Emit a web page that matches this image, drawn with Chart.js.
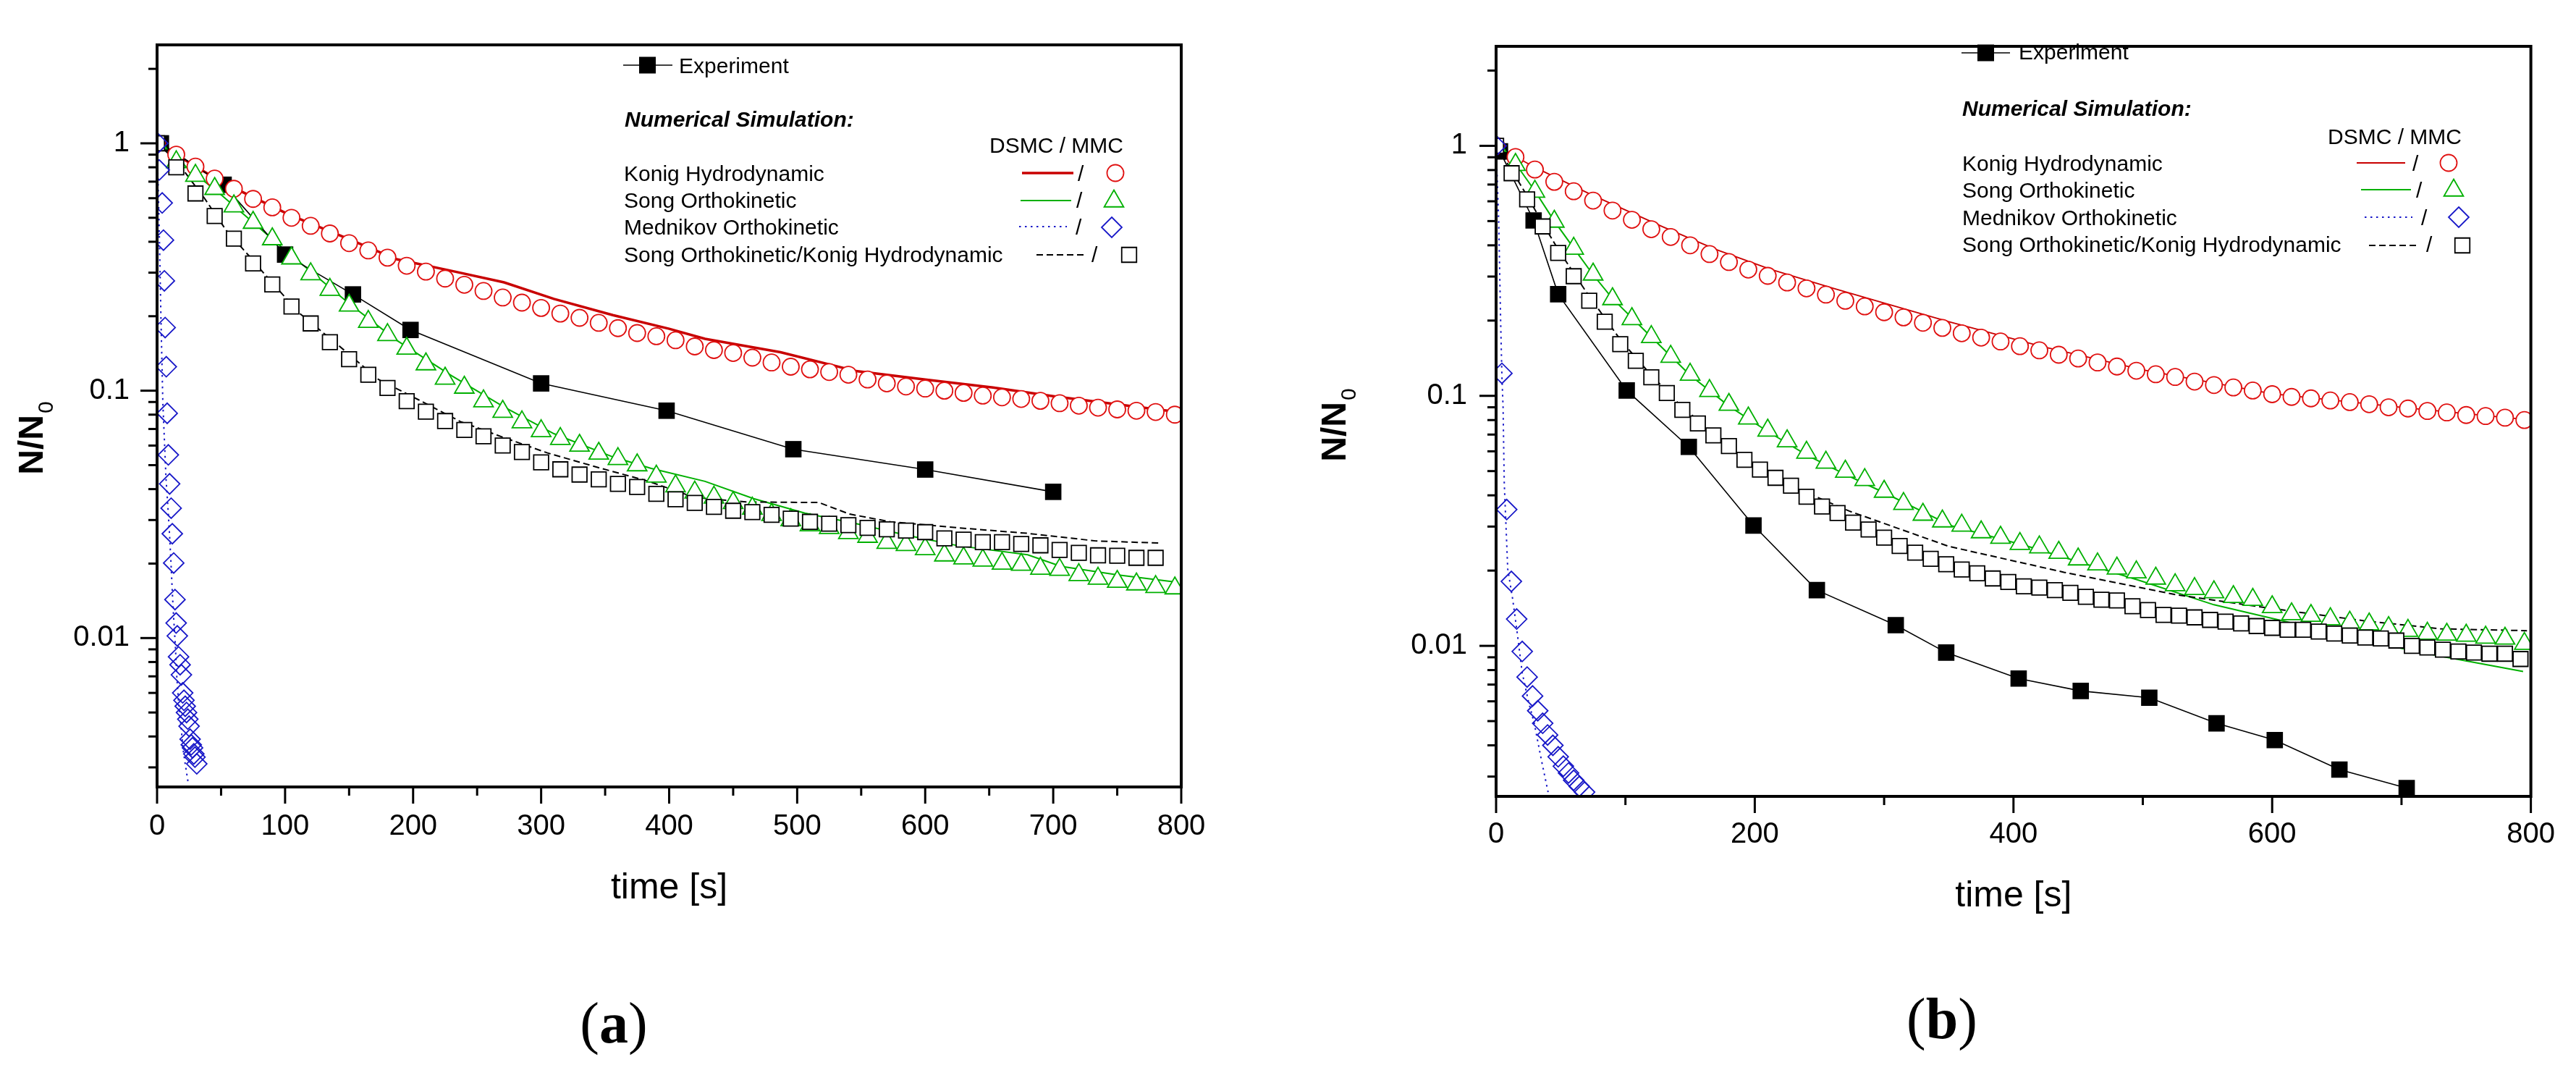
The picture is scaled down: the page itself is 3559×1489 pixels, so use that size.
<!DOCTYPE html>
<html>
<head>
<meta charset="utf-8">
<script src="https://cdn.jsdelivr.net/npm/chart.js@4.4.1/dist/chart.umd.min.js"></script>
<style>
  html, body { margin: 0; padding: 0; background: #fff; }
  #wrap { position: relative; width: 3559px; height: 1489px; overflow: hidden; background: #fff; }
  canvas { position: absolute; left: 0; top: 0; }
  .cap { position: absolute; font-family: "Liberation Serif", "Times New Roman", serif; font-size: 80px;
         line-height: 1; transform: translate(-50%, -50%); color: #000; white-space: nowrap; }
</style>
</head>
<body>
<div id="wrap">
  <canvas id="chartA" width="3559" height="1489"></canvas>
  <canvas id="chartB" width="3559" height="1489"></canvas>
  <div class="cap" style="left:848px; top:1413px">(<b>a</b>)</div>
  <div class="cap" style="left:2683px; top:1407px">(<b>b</b>)</div>
</div>
<script>
const FONT = '"Liberation Sans", Arial, Helvetica, sans-serif';

// time grids of the simulation markers [s]
const t15 = [0, 15, 30, 45, 60, 75, 90, 105, 120, 135, 150, 165, 180, 195, 210, 225, 240, 255, 270, 285,
  300, 315, 330, 345, 360, 375, 390, 405, 420, 435, 450, 465, 480, 495, 510, 525, 540, 555, 570, 585,
  600, 615, 630, 645, 660, 675, 690, 705, 720, 735, 750, 765, 780, 795];
const t12 = [0, 12, 24, 36, 48, 60, 72, 84, 96, 108, 120, 132, 144, 156, 168, 180, 192, 204, 216, 228,
  240, 252, 264, 276, 288, 300, 312, 324, 336, 348, 360, 372, 384, 396, 408, 420, 432, 444, 456, 468,
  480, 492, 504, 516, 528, 540, 552, 564, 576, 588, 600, 612, 624, 636, 648, 660, 672, 684, 696, 708,
  720, 732, 744, 756, 768, 780, 792];

// axis ticks
const yTickValues = [0.01, 0.1, 1];
const yTickLabels = ['0.01', '0.1', '1'];
const yMinorTicks = [0.003, 0.004, 0.005, 0.006, 0.007, 0.008, 0.009,
  0.02, 0.03, 0.04, 0.05, 0.06, 0.07, 0.08, 0.09,
  0.2, 0.3, 0.4, 0.5, 0.6, 0.7, 0.8, 0.9, 2];
const xTicksA = [0, 100, 200, 300, 400, 500, 600, 700, 800];
const xMinorA = [50, 150, 250, 350, 450, 550, 650, 750];
const xTicksB = [0, 200, 400, 600, 800];
const xMinorB = [100, 300, 500, 700];

const legendRows = ['Konig Hydrodynamic', 'Song Orthokinetic', 'Mednikov Orthokinetic',
  'Song Orthokinetic/Konig Hydrodynamic'];

// ---------- panel (a) ----------
const aExpT = [3, 52, 100, 153, 198, 300, 398, 497, 600, 700];
const aExpN = [1.0, 0.68, 0.355, 0.245, 0.176, 0.107, 0.083, 0.058, 0.048, 0.039];

const aKonigMmcN = [1.0, 0.90, 0.805, 0.72, 0.655, 0.596, 0.551, 0.50, 0.464, 0.432, 0.395, 0.369, 0.345,
  0.32, 0.303, 0.284, 0.268, 0.253, 0.238, 0.227, 0.216, 0.205, 0.197, 0.188, 0.179, 0.171, 0.166, 0.160,
  0.151, 0.146, 0.142, 0.136, 0.130, 0.125, 0.122, 0.119, 0.116, 0.111, 0.107, 0.104, 0.102, 0.100, 0.098,
  0.0955, 0.094, 0.0926, 0.091, 0.089, 0.087, 0.0854, 0.084, 0.083, 0.082, 0.080];
const aSongMmcN = [1.0, 0.84, 0.74, 0.655, 0.557, 0.478, 0.41, 0.343, 0.296, 0.256, 0.221, 0.19, 0.168,
  0.148, 0.128, 0.112, 0.103, 0.0907, 0.0823, 0.0746, 0.0687, 0.0639, 0.060, 0.0557, 0.053, 0.050, 0.045,
  0.0411, 0.0388, 0.037, 0.0352, 0.0334, 0.0315, 0.030, 0.0286, 0.0279, 0.0266, 0.0257, 0.0243, 0.0238,
  0.0229, 0.0216, 0.021, 0.0206, 0.020, 0.0198, 0.0191, 0.0189, 0.018, 0.0174, 0.0169, 0.0165, 0.0161, 0.0159];
const aSongKonigMmcN = [1.0, 0.80, 0.627, 0.508, 0.412, 0.327, 0.269, 0.219, 0.187, 0.157, 0.134, 0.116,
  0.1025, 0.0907, 0.0823, 0.0754, 0.0694, 0.0654, 0.060, 0.0565, 0.0513, 0.0481, 0.0458, 0.0438, 0.042,
  0.0408, 0.0383, 0.0364, 0.0352, 0.0339, 0.0327, 0.0323, 0.0315, 0.0304, 0.0295, 0.029, 0.0286, 0.0279,
  0.0275, 0.0272, 0.0268, 0.0253, 0.025, 0.0244, 0.0244, 0.024, 0.0237, 0.0227, 0.0221, 0.0216, 0.0215,
  0.0211, 0.0211];
const aMedMmcT = [0.5, 1.7, 4, 5, 5.7, 6.3, 7.2, 7.9, 8.8, 9.8, 11, 11.9, 13, 14, 14.9, 15.8, 16.8, 18, 19,
  20, 21, 22, 23, 24, 25, 25.8, 26.7, 27.7, 28.7, 29.6, 31];
const aMedMmcN = [1.0, 0.78, 0.574, 0.406, 0.278, 0.18, 0.125, 0.081, 0.055, 0.042, 0.0335, 0.0264, 0.0201,
  0.0143, 0.0115, 0.0102, 0.0084, 0.0078, 0.0071, 0.006, 0.0056, 0.0053, 0.005, 0.0047, 0.0044, 0.0039,
  0.0037, 0.0036, 0.0034, 0.0033, 0.0031];

const aKonigDsmcT = [0, 50, 103, 150, 187, 230, 271, 310, 356, 400, 428, 487, 546, 600, 653, 700, 750, 797];
const aKonigDsmcN = [1.0, 0.70, 0.515, 0.41, 0.34, 0.305, 0.274, 0.235, 0.202, 0.178, 0.162, 0.143, 0.12,
  0.111, 0.103, 0.095, 0.088, 0.082];
const aSongDsmcT = [0, 50, 100, 150, 187, 230, 271, 310, 356, 386, 428, 466, 506, 546, 586, 626, 680, 706, 750, 797];
const aSongDsmcN = [1.0, 0.62, 0.37, 0.225, 0.16, 0.115, 0.086, 0.067, 0.054, 0.0485, 0.043, 0.0366, 0.032,
  0.029, 0.026, 0.0236, 0.0217, 0.0195, 0.018, 0.0168];
const aMedDsmcT = [0, 1.5, 3, 4.5, 5.8, 7, 8.3, 9.6, 10.7, 12, 13, 14.3, 15.4, 16.8, 18.7, 20.5, 22.4, 24.3];
const aMedDsmcN = [1.0, 0.5, 0.2, 0.09, 0.062, 0.044, 0.035, 0.027, 0.021, 0.015, 0.012, 0.0093, 0.007,
  0.0055, 0.0044, 0.0035, 0.003, 0.0026];
const aSongKonigDsmcT = [0, 15, 37, 54, 72, 83, 111, 142, 173, 204, 237, 271, 305, 344, 384, 420, 460, 517,
  541, 573, 626, 680, 733, 783];
const aSongKonigDsmcN = [1.0, 0.85, 0.60, 0.445, 0.35, 0.30, 0.206, 0.152, 0.111, 0.092, 0.075, 0.0646,
  0.056, 0.049, 0.043, 0.037, 0.0355, 0.0353, 0.0317, 0.0295, 0.0279, 0.0265, 0.0247, 0.0242];

// ---------- panel (b) ----------
const bExpT = [3, 29, 48, 101, 149, 199, 248, 309, 348, 404, 452, 505, 557, 602, 652, 704];
const bExpN = [0.95, 0.503, 0.255, 0.105, 0.0625, 0.0303, 0.0167, 0.0121, 0.0094, 0.0074, 0.0066, 0.0062,
  0.0049, 0.0042, 0.0032, 0.0027];

const bKonigMmcN = [1.0, 0.902, 0.804, 0.718, 0.658, 0.604, 0.551, 0.506, 0.464, 0.432, 0.40, 0.369, 0.343,
  0.32, 0.302, 0.284, 0.269, 0.254, 0.240, 0.228, 0.216, 0.206, 0.196, 0.187, 0.178, 0.171, 0.165, 0.158,
  0.152, 0.146, 0.141, 0.136, 0.131, 0.126, 0.122, 0.119, 0.114, 0.1105, 0.108, 0.105, 0.1015, 0.099,
  0.0977, 0.0958, 0.0944, 0.0926, 0.090, 0.089, 0.087, 0.0858, 0.0838, 0.083, 0.0818, 0.080];
const bSongMmcN = [1.0, 0.84, 0.656, 0.498, 0.388, 0.306, 0.244, 0.203, 0.172, 0.1435, 0.1216, 0.1047,
  0.0922, 0.0813, 0.0727, 0.0659, 0.0593, 0.0541, 0.0498, 0.0461, 0.0414, 0.037, 0.0335, 0.0315, 0.0303,
  0.0285, 0.0271, 0.0256, 0.0248, 0.0236, 0.0222, 0.0212, 0.0204, 0.0197, 0.0186, 0.0175, 0.0169, 0.0164,
  0.0157, 0.0153, 0.0143, 0.0134, 0.0132, 0.0128, 0.0124, 0.0122, 0.0118, 0.0115, 0.0112, 0.0111, 0.011,
  0.0108, 0.0107, 0.0102];
const bSongKonigMmcN = [1.0, 0.777, 0.611, 0.476, 0.373, 0.301, 0.24, 0.198, 0.161, 0.138, 0.1186, 0.1026,
  0.0879, 0.0776, 0.0695, 0.063, 0.0555, 0.0507, 0.047, 0.0437, 0.0395, 0.0361, 0.034, 0.0311, 0.0292,
  0.0271, 0.0251, 0.0236, 0.0223, 0.0212, 0.0202, 0.0195, 0.0186, 0.0180, 0.0173, 0.0171, 0.0167, 0.0163,
  0.0157, 0.0153, 0.0152, 0.0144, 0.0139, 0.0133, 0.0132, 0.0130, 0.0127, 0.0125, 0.0123, 0.0120, 0.0118,
  0.0116, 0.0116, 0.0114, 0.0112, 0.011, 0.0108, 0.0107, 0.0105, 0.0100, 0.00985, 0.00965, 0.0095, 0.0094,
  0.0093, 0.0093, 0.00886];
const bMedMmcT = [0, 4.5, 8.2, 11.8, 15.9, 20.2, 24, 28.2, 32.2, 36, 39.8, 43.9, 48, 52, 56, 60, 64.3, 68.4];
const bMedMmcN = [1.0, 0.123, 0.0351, 0.0181, 0.0128, 0.0095, 0.0075, 0.0063, 0.0055, 0.0049, 0.0044,
  0.0040, 0.0036, 0.0033, 0.0031, 0.0029, 0.00274, 0.0026];

const bKonigDsmcT = [0, 30, 73, 129, 170, 212, 260, 300, 350, 421, 500, 600, 700, 800];
const bKonigDsmcN = [1.0, 0.82, 0.64, 0.474, 0.385, 0.321, 0.27, 0.235, 0.198, 0.158, 0.127, 0.102, 0.09, 0.080];
const bSongDsmcT = [0, 15, 30, 45, 60, 75, 90, 120, 150, 180, 210, 240, 270, 300, 352, 410, 497, 555, 608,
  686, 730, 794];
const bSongDsmcN = [1.0, 0.85, 0.66, 0.50, 0.39, 0.305, 0.245, 0.172, 0.121, 0.091, 0.072, 0.058, 0.0485,
  0.041, 0.0302, 0.0251, 0.0183, 0.0146, 0.0126, 0.0101, 0.0091, 0.0079];
const bMedDsmcT = [0, 2, 3.5, 4.5, 5.4, 6.3, 9, 12.8, 16.5, 20.2, 25, 29.5, 35, 40.2];
const bMedDsmcN = [1.0, 0.5, 0.2, 0.12, 0.09, 0.045, 0.0203, 0.0154, 0.0111, 0.0078, 0.006, 0.0049, 0.0035, 0.0026];
const bSongKonigDsmcT = [0, 12, 24, 36, 48, 60, 72, 84, 96, 108, 120, 144, 168, 208, 240, 273, 350, 439,
  526, 613, 671, 730, 797];
const bSongKonigDsmcN = [1.0, 0.8, 0.63, 0.49, 0.385, 0.31, 0.25, 0.205, 0.168, 0.142, 0.121, 0.09, 0.071,
  0.0483, 0.041, 0.0346, 0.025, 0.0197, 0.016, 0.0138, 0.0126, 0.0117, 0.0115];

// ---------- styles ----------
const RED_M = '#e01010', RED_L = '#c80000', GREEN = '#00b000', BLUE = '#1818c8';
const DOT = [2.5, 5.5], DASH = [9, 5];

function pts(ts, ns) { return ts.map((t, i) => ({ x: t, y: ns[i] })); }

function lineSet(data, color, width, dash, order) {
  return { data, borderColor: color, borderWidth: width, borderDash: dash, pointRadius: 0,
    fill: false, tension: 0, order };
}
function markSet(data, style, r, color, fill, order) {
  return { data, showLine: false, pointStyle: style, pointRadius: r, pointBorderColor: color,
    pointBackgroundColor: fill, pointBorderWidth: 1.8, borderColor: color, order };
}
function expSet(data, order) {
  return { data, borderColor: '#000', borderWidth: 1.6, pointStyle: 'rect', pointRadius: 16,
    pointBackgroundColor: '#000', pointBorderColor: '#000', pointBorderWidth: 0, tension: 0, order };
}

function seg(ctx, x1, y1, x2, y2) { ctx.beginPath(); ctx.moveTo(x1, y1); ctx.lineTo(x2, y2); ctx.stroke(); }

function marker(ctx, style, x, y, r, color, fill) {
  ctx.save();
  ctx.strokeStyle = color; ctx.fillStyle = fill; ctx.lineWidth = 1.8;
  ctx.beginPath();
  if (style === 'circle') ctx.arc(x, y, r, 0, Math.PI * 2);
  else if (style === 'triangle') {
    ctx.moveTo(x, y - r); ctx.lineTo(x + r * 0.866, y + r / 2); ctx.lineTo(x - r * 0.866, y + r / 2); ctx.closePath();
  } else if (style === 'rectRot') {
    ctx.moveTo(x, y - r); ctx.lineTo(x + r, y); ctx.lineTo(x, y + r); ctx.lineTo(x - r, y); ctx.closePath();
  } else {
    const h = r * Math.SQRT1_2; ctx.rect(x - h, y - h, 2 * h, 2 * h);
  }
  ctx.fill(); ctx.stroke();
  ctx.restore();
}

function drawLegend(ctx, L, redWidth) {
  const st = [
    { line: RED_L, lw: redWidth, dash: [], style: 'circle', r: 11.5, mark: RED_M, fill: '#fff' },
    { line: GREEN, lw: 2, dash: [], style: 'triangle', r: 15.5, mark: GREEN, fill: '#fff' },
    { line: BLUE, lw: 2, dash: DOT, style: 'rectRot', r: 14, mark: BLUE, fill: 'rgba(0,0,0,0)' },
    { line: '#000', lw: 2, dash: DASH, style: 'rect', r: 14.5, mark: '#000', fill: '#fff' }
  ];
  ctx.save();
  ctx.textAlign = 'left'; ctx.textBaseline = 'alphabetic'; ctx.fillStyle = '#000';
  ctx.strokeStyle = '#000'; ctx.lineWidth = 1.6;
  seg(ctx, L.exp.x1, L.exp.y, L.exp.x2, L.exp.y);
  ctx.fillRect(L.exp.mx - 11.5, L.exp.y - 11.5, 23, 23);
  ctx.font = '30px ' + FONT;
  ctx.fillText('Experiment', L.exp.textX, L.exp.base);
  ctx.font = 'italic bold 30px ' + FONT;
  ctx.fillText('Numerical Simulation:', L.numX, L.numBase);
  ctx.font = '30px ' + FONT;
  ctx.fillText('DSMC / MMC', L.dsmcX, L.dsmcBase);
  L.rows.forEach((r, i) => {
    const s = st[i];
    ctx.fillStyle = '#000';
    ctx.fillText(legendRows[i], L.textX, r.base);
    ctx.fillText('/', r.slashX, r.base);
    ctx.save();
    ctx.strokeStyle = s.line; ctx.lineWidth = s.lw; ctx.setLineDash(s.dash);
    seg(ctx, r.lx1, r.ly, r.lx2, r.ly);
    ctx.restore();
    marker(ctx, s.style, r.mx, r.my, s.r, s.mark, s.fill);
  });
  ctx.restore();
}

function makePanel(id, P) {
  const deco = {
    id: 'deco' + id,
    afterDraw(chart) {
      const ctx = chart.ctx, a = chart.chartArea, xs = chart.scales.x, ys = chart.scales.y;
      ctx.save();
      ctx.strokeStyle = '#000'; ctx.lineWidth = 3;
      P.xMajor.forEach(v => { const px = xs.getPixelForValue(v); seg(ctx, px, a.bottom, px, a.bottom + 23); });
      P.xMinor.forEach(v => { const px = xs.getPixelForValue(v); seg(ctx, px, a.bottom, px, a.bottom + 12); });
      yTickValues.forEach(v => { const py = ys.getPixelForValue(v); seg(ctx, a.left - 23, py, a.left, py); });
      yMinorTicks.forEach(v => { const py = ys.getPixelForValue(v); seg(ctx, a.left - 12, py, a.left, py); });
      ctx.lineWidth = 4;
      ctx.strokeRect(a.left, a.top, a.right - a.left, a.bottom - a.top);
      // y axis title N/N0
      ctx.translate(P.yTitle.x, P.yTitle.y);
      ctx.rotate(-Math.PI / 2);
      ctx.fillStyle = '#000'; ctx.textBaseline = 'alphabetic'; ctx.textAlign = 'left';
      ctx.font = 'bold 48px ' + FONT;
      const w1 = ctx.measureText('N/N').width;
      ctx.font = '30px ' + FONT;
      const w2 = ctx.measureText('0').width;
      const u = -(w1 + w2 + 2) / 2;
      ctx.font = 'bold 48px ' + FONT;
      ctx.fillText('N/N', u, 0);
      ctx.font = '30px ' + FONT;
      ctx.fillText('0', u + w1 + 2, 14);
      ctx.restore();
      drawLegend(ctx, P.legend, P.redWidth);
    }
  };
  return new Chart(document.getElementById(id), {
    type: 'line',
    data: { datasets: P.datasets },
    options: {
      responsive: false, maintainAspectRatio: false, animation: false, devicePixelRatio: 1, events: [],
      layout: { padding: { left: 0, top: P.top, right: 3559 - P.right, bottom: 0 } },
      plugins: { legend: { display: false }, tooltip: { enabled: false } },
      scales: {
        x: {
          type: 'linear', min: 0, max: 800, bounds: 'data',
          afterBuildTicks: s => { s.ticks = P.xMajor.map(v => ({ value: v })); },
          afterFit: s => { s.height = 1489 - P.bottom; },
          grid: { display: false, drawTicks: false }, border: { display: false },
          ticks: { color: '#000', font: { family: FONT, size: 40 }, padding: P.xTickPad, maxRotation: 0,
            autoSkip: false, callback: v => String(v) },
          title: { display: true, text: 'time [s]', color: '#000', font: { family: FONT, size: 50 },
            padding: { top: 0, bottom: P.xTitlePad } }
        },
        y: {
          type: 'logarithmic', min: 0.0025, max: 2.5, bounds: 'data',
          afterBuildTicks: s => { s.ticks = yTickValues.map(v => ({ value: v })); },
          afterFit: s => { s.width = P.left; },
          grid: { display: false, drawTicks: false }, border: { display: false },
          ticks: { color: '#000', font: { family: FONT, size: 40 }, padding: P.yTickPad,
            callback: (v, i) => yTickLabels[i] }
        }
      }
    },
    plugins: [deco]
  });
}

function panelSets(S, redWidth) {
  return [
    markSet(pts(S.medMmcT, S.medMmcN), 'rectRot', 14, BLUE, 'rgba(0,0,0,0)', 1),
    markSet(pts(S.skMmcT, S.skMmcN), 'rect', 14.5, '#000', '#fff', 2),
    markSet(pts(t15, S.songMmcN), 'triangle', 15.5, GREEN, '#fff', 3),
    markSet(pts(t15, S.konigMmcN), 'circle', 11.5, RED_M, '#fff', 4),
    expSet(pts(S.expT, S.expN), 5),
    lineSet(pts(S.skDsmcT, S.skDsmcN), '#000', 2, DASH, 6),
    lineSet(pts(S.medDsmcT, S.medDsmcN), BLUE, 2, DOT, 7),
    lineSet(pts(S.songDsmcT, S.songDsmcN), GREEN, 2, [], 8),
    lineSet(pts(S.konigDsmcT, S.konigDsmcN), RED_L, redWidth, [], 9)
  ];
}

makePanel('chartA', {
  left: 217, right: 1632, top: 51, bottom: 1087,
  xMajor: xTicksA, xMinor: xMinorA, xTickPad: 31, xTitlePad: 232, yTickPad: 38, redWidth: 3.5,
  yTitle: { x: 59, y: 605 },
  datasets: panelSets({
    medMmcT: aMedMmcT, medMmcN: aMedMmcN, skMmcT: t15.slice(0, aSongKonigMmcN.length), skMmcN: aSongKonigMmcN,
    songMmcN: aSongMmcN, konigMmcN: aKonigMmcN, expT: aExpT, expN: aExpN,
    skDsmcT: aSongKonigDsmcT, skDsmcN: aSongKonigDsmcN, medDsmcT: aMedDsmcT, medDsmcN: aMedDsmcN,
    songDsmcT: aSongDsmcT, songDsmcN: aSongDsmcN, konigDsmcT: aKonigDsmcT, konigDsmcN: aKonigDsmcN
  }, 3.5),
  legend: {
    exp: { x1: 861, x2: 929, y: 90, mx: 894.5, textX: 938, base: 101 },
    numX: 863, numBase: 175, dsmcX: 1367, dsmcBase: 211, textX: 862,
    rows: [
      { base: 250, lx1: 1412, lx2: 1483, ly: 239, slashX: 1489, mx: 1541, my: 239 },
      { base: 287, lx1: 1410, lx2: 1480, ly: 277, slashX: 1487, mx: 1539, my: 278 },
      { base: 324, lx1: 1408, lx2: 1474, ly: 313, slashX: 1486, mx: 1536, my: 314 },
      { base: 362, lx1: 1432, lx2: 1498, ly: 352, slashX: 1508, mx: 1560, my: 352 }
    ]
  }
});

makePanel('chartB', {
  left: 2067, right: 3506, top: 40, bottom: 1100,
  xMajor: xTicksB, xMinor: xMinorB, xTickPad: 29, xTitlePad: 221, yTickPad: 40, redWidth: 1.8,
  yTitle: { x: 1859, y: 587 },
  datasets: panelSets({
    medMmcT: bMedMmcT, medMmcN: bMedMmcN, skMmcT: t12, skMmcN: bSongKonigMmcN,
    songMmcN: bSongMmcN, konigMmcN: bKonigMmcN, expT: bExpT, expN: bExpN,
    skDsmcT: bSongKonigDsmcT, skDsmcN: bSongKonigDsmcN, medDsmcT: bMedDsmcT, medDsmcN: bMedDsmcN,
    songDsmcT: bSongDsmcT, songDsmcN: bSongDsmcN, konigDsmcT: bKonigDsmcT, konigDsmcN: bKonigDsmcN
  }, 1.8),
  legend: {
    exp: { x1: 2710, x2: 2777, y: 73, mx: 2743.5, textX: 2789, base: 82 },
    numX: 2711, numBase: 160, dsmcX: 3216, dsmcBase: 199, textX: 2711,
    rows: [
      { base: 236, lx1: 3256, lx2: 3323, ly: 225, slashX: 3333, mx: 3383, my: 225 },
      { base: 273, lx1: 3262, lx2: 3331, ly: 262, slashX: 3338, mx: 3390, my: 263 },
      { base: 311, lx1: 3267, lx2: 3333, ly: 300, slashX: 3345, mx: 3397, my: 300 },
      { base: 348, lx1: 3273, lx2: 3340, ly: 339, slashX: 3352, mx: 3402, my: 339 }
    ]
  }
});
</script>
</body>
</html>
